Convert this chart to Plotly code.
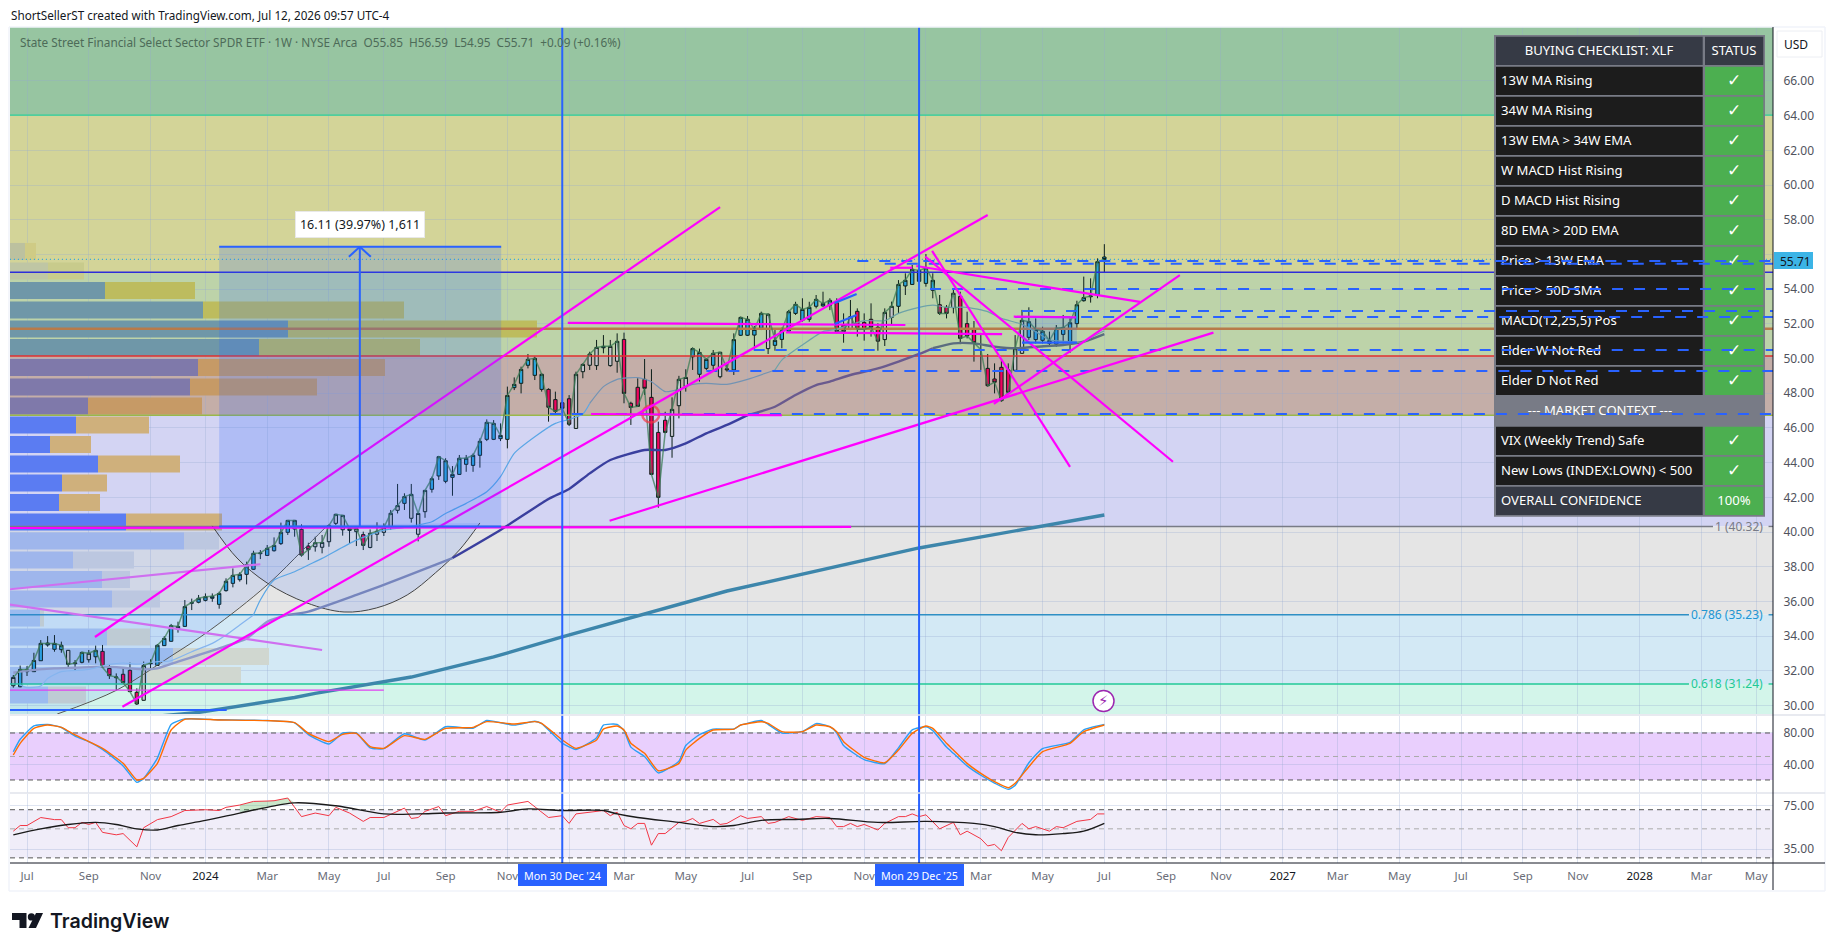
import pandas as pd
import plotly.graph_objects as go

# ---------- data ----------
start = pd.Timestamp("2023-06-19")
highs = [31.76,32.30,32.28,33.04,33.77,34.00,34.06,33.68,33.20,32.62,33.10,33.20,33.45,33.49,32.33,31.85,32.20,32.47,30.99,32.53,
32.66,33.54,34.00,34.70,34.83,36.08,36.16,36.37,36.46,36.46,36.56,37.33,37.90,37.68,38.29,38.92,38.96,39.25,39.69,40.54,
40.69,40.69,40.44,39.38,39.73,39.83,40.44,41.04,40.98,40.31,40.21,40.02,40.15,40.56,40.50,41.27,42.77,42.23,42.77,41.07,
42.42,43.19,44.38,44.25,43.80,44.44,44.44,44.53,45.40,46.49,46.45,46.26,48.38,48.91,49.53,50.26,50.11,49.14,48.28,48.09,
47.61,47.89,49.24,49.72,50.39,51.07,51.35,51.07,51.45,51.49,47.51,48.86,49.97,49.38,46.36,46.93,47.76,49.00,49.38,50.64,
50.57,50.01,50.49,50.36,49.68,51.45,52.41,52.45,51.87,52.70,52.60,51.64,51.78,52.80,53.27,53.47,53.27,53.66,53.85,53.47,
53.47,52.60,53.37,52.89,52.60,53.18,52.03,52.89,53.28,54.52,54.91,55.39,55.49,56.02,54.91,53.66,53.08,53.95,53.85,52.70,
52.16,51.35,50.26,49.72,49.91,49.72,51.35,52.80,52.95,52.31,51.83,51.55,51.93,52.51,52.31,53.33,54.72,54.62,55.77,56.59]
lows = [31.03,31.05,31.70,31.95,32.58,33.39,33.10,33.04,32.20,32.01,32.43,32.47,32.43,32.18,31.53,30.85,31.28,30.78,30.03,30.28,
32.04,32.28,33.43,33.68,34.20,34.54,35.50,35.89,36.00,35.98,35.58,36.56,36.81,37.14,36.98,37.81,38.44,38.62,38.87,39.25,
39.83,39.73,38.58,38.39,38.87,38.77,39.15,40.40,39.79,39.31,39.19,38.96,39.06,39.48,39.77,40.12,41.07,41.27,40.54,39.46,
40.82,42.27,43.00,42.81,42.09,43.29,43.47,43.47,43.71,45.24,45.30,45.24,44.82,48.18,47.99,49.43,48.76,48.09,46.36,46.74,
46.84,46.11,45.95,48.86,49.34,49.34,50.30,49.53,49.18,47.42,46.17,47.22,47.90,43.28,41.40,45.69,44.28,46.55,48.09,49.34,
48.67,49.34,49.24,48.86,49.24,49.05,51.30,51.30,50.49,51.64,50.26,50.45,50.59,51.55,52.51,52.12,52.12,52.89,52.99,52.79,
51.45,50.91,51.64,51.26,51.03,51.26,50.45,50.72,51.99,52.60,53.66,54.24,53.85,54.14,53.47,52.51,52.31,52.60,50.83,51.16,
49.82,49.34,48.38,47.99,47.51,47.99,49.30,50.26,51.07,50.87,50.87,50.68,50.68,50.87,50.33,51.74,53.28,53.22,53.47,54.95]
opens = [31.14,31.08,31.95,31.95,32.58,33.49,33.24,33.22,33.18,32.41,32.49,32.64,32.81,33.12,32.14,31.60,31.80,32.03,30.76,30.30,
32.41,32.31,33.45,33.70,34.39,34.56,35.89,35.95,36.06,36.18,35.83,36.62,37.04,37.25,37.56,37.85,38.75,38.65,38.92,39.33,
39.98,40.17,40.15,39.19,39.15,39.12,39.44,40.50,40.13,40.09,40.02,39.85,39.11,39.87,39.98,40.31,41.25,41.65,40.79,39.87,
41.17,42.46,43.23,42.92,43.15,43.32,43.90,43.84,44.42,45.34,45.34,45.38,45.34,48.32,48.57,49.61,49.03,48.22,48.22,47.63,
47.45,47.68,45.97,49.24,49.61,49.59,50.62,49.59,49.84,51.10,47.42,48.34,48.80,47.76,45.74,46.44,45.51,47.28,48.38,50.10,
49.09,49.43,49.61,48.95,49.34,49.34,51.34,51.34,51.35,51.74,50.57,50.76,51.10,51.58,52.60,52.20,52.26,53.01,53.03,53.06,
53.22,51.93,51.68,52.72,52.08,52.26,51.80,51.09,52.37,53.01,54.18,54.27,54.45,54.33,53.93,53.10,52.95,52.93,53.58,52.01,
51.68,50.47,49.43,48.82,49.49,49.34,49.32,50.30,51.22,51.09,51.05,50.87,50.83,51.39,50.97,52.01,53.33,53.56,53.66,55.85]
closes = [31.62,32.08,32.08,32.60,33.58,33.60,33.58,33.47,32.37,32.45,33.06,33.01,33.18,32.20,31.72,31.64,31.32,30.80,30.09,32.31,
32.45,33.47,33.87,34.60,34.56,35.70,35.93,36.18,36.27,36.29,36.46,37.16,37.50,37.56,38.12,38.77,38.79,39.06,39.23,39.98,
40.67,40.67,38.67,38.98,39.38,39.40,40.37,41.02,40.96,40.19,40.19,39.23,39.92,40.04,40.25,41.08,41.52,42.04,42.17,41.07,
42.40,43.07,44.34,44.11,43.32,44.25,44.25,44.42,45.23,46.32,46.26,45.57,47.87,48.51,49.37,49.95,50.01,49.09,47.19,46.95,
47.13,46.21,49.09,49.66,50.26,50.64,50.70,50.70,50.99,47.99,47.18,47.24,48.28,43.32,42.00,45.74,47.07,48.80,48.91,50.57,
50.35,49.95,50.30,50.36,49.40,51.09,52.37,52.26,51.68,52.60,52.55,51.05,51.60,52.70,53.12,52.83,52.95,53.41,53.18,53.35,
51.55,51.55,52.41,51.68,51.68,51.80,51.00,52.66,53.01,54.27,54.51,55.14,55.08,55.22,54.51,52.60,52.60,53.76,51.16,51.30,
50.91,50.51,48.43,48.63,47.57,48.05,50.57,52.20,52.12,51.68,51.57,51.03,51.74,51.78,52.06,53.10,53.51,53.60,55.58,55.71]
bar_colors = list("gbbbbbbbggbgb" "rrgrrr" "gg" "bbbbbbbbbbbbbbbbbbbbb" "rr" "ggggggg" "r" "ggggg" "b" "ggg"
                  "bbbbbbbbbbbbbbbbb" "rrrr" "gggg" "b" "gg" "rrrrrrr" "ggg" "bbbb" "gg" "bbbbb" "g" "bbbbbbbbb"
                  "rr" "g" "rrrr" "gg" "bbbbbb" "rr" "g" "rrr" "g" "rrrr" "gg" "bbbbbbbbb" "g" "bb")

ma_fast_bars = [2,3,5,6,8,11,12,15,17,19,20,22,24,27,30,32,34,36,37,39,42,44,46,51,55,58,62,64,67,70,72,74,77,80,82,84,85,87,89,92,94,96,98,100,102,105,108,112,113,116,119,121,125,128,130,133,135,137,140,143,145,148,150,152,155,157,158,160]
ma_fast_vals = [31.18,31.03,31.12,31.56,31.95,32.04,32.08,32.37,32.45,32.39,32.43,32.53,32.58,33.10,33.58,34.06,34.64,35.22,36.08,37.23,37.71,38.10,38.48,39.53,40.11,40.27,40.59,41.07,41.65,42.32,43.19,44.53,45.49,46.26,46.49,46.80,47.41,48.38,48.80,48.90,48.66,48.09,48.22,48.51,48.57,48.51,48.80,49.34,49.91,50.78,51.55,51.68,52.18,52.18,52.60,52.95,53.08,52.95,52.95,52.70,52.31,51.97,51.55,51.07,50.97,50.95,51.2,51.6]
ma_mid_bars = [1,3,7,10,14,17,20,22,25,28,31,35,38,41,44,51,58,65,72,79,82,85,88,93,96,99,102,105,108,112,115,118,120,123,127,130,133,135,138,141,144,147,150,154,157,160]
ma_mid_vals = [31.89,32.01,32.14,32.18,32.24,32.18,32.08,32.14,32.53,32.91,33.29,33.87,34.83,35.22,35.41,36.37,37.41,38.50,40.12,41.90,42.48,43.38,44.15,44.73,44.73,45.11,45.69,46.17,46.74,47.22,47.90,48.47,48.67,49.05,49.43,49.82,50.26,50.59,50.87,50.87,50.68,50.59,50.68,50.78,50.97,51.41]
ma_slow_bars = [21,28,42,45,59,71,81,105,133,149,160]
ma_slow_vals = [29.35,29.6,30.46,30.7,31.64,32.8,33.95,36.6,39.08,40.2,40.98]

stoch_bars = [1,2,4,6,8,10,12,14,17,19,20,22,24,26,31,38,42,44,47,49,51,53,55,58,61,64,68,70,74,77,78,81,83,86,87,89,90,91,93,95,98,99,101,103,106,107,110,111,113,116,118,120,121,122,125,128,130,132,134,135,137,138,140,142,144,146,147,149,151,155,157,160]
stoch_k = [56,72,89,91,87,76,69,59,38,17,22,48,91,98,97,96,93,78,66,80,80,61,60,79,71,88,86,96,90,95,92,67,59,74,90,91,83,62,50,29,44,64,78,85,85,90,96,91,80,82,92,88,80,64,46,41,61,84,88,83,62,54,38,26,16,8,13,42,60,68,84,91]
stoch_d = [51.9,66.8,85.9,90.2,87.2,77.5,69,60.4,41.3,20,22.1,41.3,83.8,97.5,96.6,95.8,93.2,79.6,69,78.3,79.6,62.6,60.4,76.6,71.9,85.9,87.2,94.5,91.5,94.5,92.4,71.1,60.4,71.1,85,88.9,83.8,66.8,54,31.8,41.2,58.2,73.1,83.8,85,90.2,94.4,92.3,81.7,81.7,90.2,88,81.7,68.9,48.9,42,58.2,79.5,88.9,85.9,66.8,58.2,41.2,28.4,17.8,10.1,15.7,37,56.1,66.8,81.7,90.2]

rsi_bars = [1,2,3,5,7,8,9,10,11,12,13,14,16,17,19,20,22,24,26,29,31,32,34,36,38,39,41,43,45,47,48,50,52,53,55,57,58,59,60,61,63,64,66,68,70,72,73,76,79,81,82,83,86,87,88,89,90,91,92,93,94,95,96,98,99,100,101,103,104,105,107,108,110,111,112,114,116,118,120,121,122,123,124,125,127,128,130,131,132,133,134,136,138,139,140,142,143,144,145,146,148,149,150,152,153,154,156,158,159,160]
rsi_vals = [48,53,53,61,58.8,58.8,51,51,56,54,56,47,45,46,36.4,51,58.8,62,69,70,69,73,76,81,81.5,82,86,62,66,63,73,66,57,61,61,68,72,60,61,68,74,63,68,68,74,67,76,81,61,63,55,65,68,69,63,67,53,50,55,55,37.5,46,46,56,57,60,55,59,54,55,63,60,62,55,56,62,58,62,61,52,52,55,52,54,49,55,62,62,65,62,64,50,56,45,48,42,37,38,34,43,55,50,52,48,52,51,57,59,65,65]
rsi_ma_bars = [1,5,9,13,16,19,22,25,29,34,38,42,48,55,60,64,72,76,81,87,89,92,98,103,106,110,115,120,127,134,141,144,147,150,154,157,160]
rsi_ma_vals = [45,50,54,56,54,50,49,53,58,66,73,79,75,65,65,66,67,71,69,69,65,61,56,52,53,58,59,60,56,57,55,52,47,45,46,48,55]
rsi_gap_bars = [34,36,38,39,41,42]
rsi_gap_top = [76,81,81.5,82,86,79]
rsi_gap_base = [66,69,73,75,78,79]

vp_prices = [56.17,55.04,53.92,52.80,51.70,50.63,49.48,48.36,47.26,46.17,45.04,43.92,42.82,41.70,40.58,39.48,38.39,37.26,36.14,35.04,33.95,32.82,31.73,30.60]
vp_up = [15,38,95,193,278,249,188,180,78,66,40,88,52,49,116,174,63,92,102,30,97,163,137,38]
vp_down = [11,36,90,201,249,161,187,127,114,73,41,82,45,41,96,35,61,28,48,4,43,96,94,38]
vp_up_colors = ["#bcc19f","#bfc6a4"]+["#6f97a8"]*4+["#7f79aa"]*3+["#5b7cf2"]*6+["#adc0ea"]*4+["#a9c6ee"]*5
vp_down_colors = ["#cfcb85","#c8cb8c"]+["#bdbc5e"]*4+["#c69a66"]*3+["#cfb07c"]*6+["#cdd3dd"]*4+["#d0d7d0"]*5

fib_levels = [64.03,54.97,51.72,50.14,46.73,40.32,35.23,31.24]
fib_line_colors = ["#2bd19a","#2d2dd9","#b87a4a","#e03030","#9ab84a","#787b86","#2f8fc4","#22c997"]
fib_fill_colors = ["#97c5a1","#d3d498","#bdd3a9","#bdd3a9","#c4aea8","#d3d4f3","#e5e5e5","#d3e9f5","#d3f5ea"]

trend_lines = [(12.9,33.95,104.0,58.73),(16.9,29.93,143,58.27),(0.5,40.23,123.1,40.29),(87.9,40.65,175.9,51.49),
               (143.9,47.38,171,54.81),(81.8,52.05,131,51.93),(113.6,51.51,145.1,51.41),(85.2,46.80,113,46.73),
               (134.9,56.20,155,43.75),(133.9,55.87,170,44.05),(132.6,55.33,165.2,53.26),(128.8,55.23,132,55.23),
               (146.8,52.41,155.9,52.37)]
pale_lines = [(0.5,36.70,37,38.14),(0.5,35.81,46,33.20)]
thin_line = (0.5,30.89,55,30.89)
blue_segments = [(0.5,29.74,32.1,29.74),(120.7,53.2,123.9,53.72),(120.7,51.99,123.9,52.51),(148,50.91,156,50.91)]
dash_levels = [55.62,55.46,54.0,52.74,52.39,50.49,49.28,46.80]
dash_starts = [124,128,134.6,148,147,108.9,102,79.2]
rise_bars = [7.4,16.1,23.8,29.7,38,43.2,46.4]
rise_vals = [29.51,30.89,32.80,34.35,36.95,38.96,40.23]
smile_bars = [30,33.6,38,43.8,49.2,53.9,58.4,62.5,66,69]
smile_vals = [40.35,38.50,37.06,35.91,35.39,35.62,36.37,37.64,38.96,40.52]

tick_dates = ["2023-07-03","2023-09-04","2023-11-06","2024-01-01","2024-03-04","2024-05-06","2024-07-01","2024-09-02","2024-11-04","2025-01-06","2025-03-03","2025-05-05","2025-07-07","2025-09-01","2025-11-03","2026-01-05","2026-03-02","2026-05-04","2026-07-06","2026-09-07","2026-11-02","2027-01-04","2027-03-01","2027-05-03","2027-07-05","2027-09-06","2027-11-01","2028-01-03","2028-03-06","2028-05-01"]
tick_text = ["Jul","Sep","Nov","2024","Mar","May","Jul","Sep","Nov","","Mar","May","Jul","Sep","Nov","","Mar","May","Jul","Sep","Nov","2027","Mar","May","Jul","Sep","Nov","2028","Mar","May"]
price_ticks = list(range(30, 68, 2))
price_labels = ["" if v == 56 else f"{v}.00" for v in price_ticks]
cursor_dates = ["2024-12-30","2025-12-29"]
cursor_text = ["Mon 30 Dec '24","Mon 29 Dec '25"]

check_rows = ["13W MA Rising","34W MA Rising","13W EMA > 34W EMA","W MACD Hist Rising","D MACD Hist Rising","8D EMA > 20D EMA","Price > 13W EMA","Price > 50D SMA","MACD(12,25,5) Pos","Elder W Not Red","Elder D Not Red"]
context_rows = ["VIX (Weekly Trend) Safe","New Lows (INDEX:LOWN) < 500"]

# ---------- page layout ----------
W, H = 1835, 951
L, R = 10, 1773
X_RANGE = ["2023-06-15 15:00", "2028-05-18 03:00"]
FONT = "Noto Sans"
DATES = [start + pd.Timedelta(weeks=i) for i in range(len(closes))]
bd = lambda b: start + pd.Timedelta(days=(b - 1) * 7)
dom = lambda top, bot: [1 - bot / H, 1 - top / H]
RIGHT_BAR = 257.45
GRID = "rgba(150,170,210,0.30)"

fig = go.Figure()
shapes, annos = [], []

# volume profile: widths are turned into time spans on the date axis
unit_ms = 7 * 86400000 / 6.862
left = pd.Timestamp(X_RANGE[0])
fig.add_trace(go.Bar(y=vp_prices, x=[v * unit_ms for v in vp_up], base=[left] * len(vp_up), orientation="h", width=0.98,
                     marker=dict(color=vp_up_colors, line=dict(width=0)), hoverinfo="skip"))
fig.add_trace(go.Bar(y=vp_prices, x=[v * unit_ms for v in vp_down],
                     base=[left + pd.Timedelta(milliseconds=u * unit_ms) for u in vp_up], orientation="h", width=0.98,
                     marker=dict(color=vp_down_colors, line=dict(width=0)), hoverinfo="skip"))

# levels, above the profile and below the candles
fib_ends = [RIGHT_BAR] * 5 + [248.7, 245.2, 245.2]
for lv, col, e in zip(fib_levels, fib_line_colors, fib_ends):
    fig.add_trace(go.Scatter(x=[bd(0.5), bd(e)], y=[lv, lv], mode="lines", hoverinfo="skip",
                             line=dict(color=col, width=2.5 if lv == 51.72 else 1.4)))
for lv, col in zip(fib_levels[5:], fib_line_colors[5:]):
    fig.add_trace(go.Scatter(x=[bd(256.8), bd(RIGHT_BAR)], y=[lv, lv], mode="lines", hoverinfo="skip", line=dict(color=col, width=1.4)))
fig.add_trace(go.Scatter(x=[bd(0.5), bd(RIGHT_BAR)], y=[55.71, 55.71], mode="lines", hoverinfo="skip", line=dict(color="#2ba7e0", width=1.2, dash="1px,3px")))

# cup drawings
fig.add_trace(go.Scatter(x=[bd(b) for b in rise_bars] + [bd(0.5), bd(0.5)], y=rise_vals + [40.23, 29.51], mode="none", fill="toself",
                         fillcolor="rgba(41,98,255,0.10)", hoverinfo="skip"))
fig.add_trace(go.Scatter(x=[bd(b) for b in rise_bars], y=rise_vals, mode="lines", line=dict(color="#555", width=1, shape="spline"), hoverinfo="skip"))
fig.add_trace(go.Scatter(x=[bd(b) for b in smile_bars], y=smile_vals, mode="lines", line=dict(color="#444", width=1, shape="spline"),
                         fill="toself", fillcolor="rgba(41,98,255,0.13)", hoverinfo="skip"))

# moving averages; the tone shifts with the band each one passes under
def ma_trace(bars, vals, parts, width):
    for b0, b1, col in parts:
        sub = [(b, v) for b, v in zip(bars, vals) if b0 <= b <= b1]
        fig.add_trace(go.Scatter(x=[bd(b) for b, _ in sub], y=[v for _, v in sub], mode="lines", hoverinfo="skip",
                                 line=dict(color=col, width=width, shape="spline", smoothing=0.6)))

fig.add_trace(go.Scatter(x=[bd(b) for b in ma_slow_bars], y=ma_slow_vals, mode="lines", line=dict(color="#3d86ab", width=3.4), hoverinfo="skip"))
ma_trace(ma_mid_bars, ma_mid_vals, [(1, 41, "#8f9acb"), (41, 65, "#7685bd"), (65, 108, "#3a3f9e"), (108, 135, "#6a5a8e"), (135, 160, "#5b6d7f")], 2.4)
ma_trace(ma_fast_bars, ma_fast_vals, [(2, 36, "#85b5ef"), (36, 85, "#5aa6e6"), (85, 112, "#7393b3"), (112, 160, "#6da3a8")], 1.2)
fig.add_trace(go.Scatter(x=DATES, y=closes, mode="lines", line=dict(color="rgba(60,125,85,0.75)", width=1.5), hoverinfo="skip"))

# candles, one trace per impulse colour
for code, col in (("b", "#2aa5dc"), ("r", "#f0045f"), ("g", "#c4c4cc")):
    ix = [i for i, c in enumerate(bar_colors) if c == code]
    side = dict(fillcolor=col, line=dict(color="#0d1f1a", width=1))
    fig.add_trace(go.Candlestick(x=[DATES[i] for i in ix], open=[opens[i] for i in ix], high=[highs[i] for i in ix],
                                 low=[lows[i] for i in ix], close=[closes[i] for i in ix],
                                 increasing=side, decreasing=side, whiskerwidth=0, hoverinfo="skip"))
fig.add_trace(go.Scatter(x=[bd(93.9)], y=[46.80], mode="markers", hoverinfo="skip",
                         marker=dict(symbol="circle-open", size=17, color="rgba(242,54,69,0.7)", line=dict(color="rgba(242,54,69,0.7)", width=2.5))))

# stochastic panel
fig.add_trace(go.Scatter(x=[bd(b) for b in stoch_bars], y=stoch_k, xaxis="x2", yaxis="y2", mode="lines", line=dict(color="#2ba0f5", width=1.4, shape="spline", smoothing=0.5), hoverinfo="skip"))
fig.add_trace(go.Scatter(x=[bd(b) for b in stoch_bars], y=stoch_d, xaxis="x2", yaxis="y2", mode="lines", line=dict(color="#ff6d00", width=1.4, shape="spline", smoothing=0.5), hoverinfo="skip"))
# rsi panel
fig.add_trace(go.Scatter(x=[bd(b) for b in rsi_gap_bars + rsi_gap_bars[::-1]], y=rsi_gap_top + rsi_gap_base[::-1], xaxis="x3", yaxis="y3", mode="none",
                         fill="toself", fillcolor="rgba(76,175,80,0.30)", hoverinfo="skip"))
fig.add_trace(go.Scatter(x=[bd(b) for b in rsi_bars], y=rsi_vals, xaxis="x3", yaxis="y3", mode="lines", line=dict(color="#f23645", width=1), hoverinfo="skip"))
fig.add_trace(go.Scatter(x=[bd(b) for b in rsi_ma_bars], y=rsi_ma_vals, xaxis="x3", yaxis="y3", mode="lines", line=dict(color="#1a1a1a", width=1.4, shape="spline"), hoverinfo="skip"))

# checklist table (page-pixel subplot above the candles)
rows_top = 36.7
row_step, row_h = 30, 28.3
def rect(x0, y0, x1, y1, col, layer="between", line=None):
    shapes.append(dict(type="rect", xref="x4", yref="y4", x0=x0, x1=x1, y0=y0, y1=y1, fillcolor=col, layer=layer,
                       line=line or dict(width=0)))
rect(1494, 35, 1765, 516.7, "#787b86")
tx, ty, ts = [], [], []
cx, cy, cs = [], [], []
kx, ky = [], []
for i in range(16):
    y0 = rows_top + i * row_step
    yc = y0 + row_h / 2 + 1
    if i == 12:
        cx.append(1600); cy.append(yc); cs.append("--- MARKET CONTEXT ---")
        continue
    is_dark = i in (0, 15)
    rect(1496, y0, 1702.7, y0 + row_h, "#363a45" if is_dark else "#1c1c1c")
    rect(1705, y0, 1763.3, y0 + row_h, "#363a45" if i == 0 else "#4caf50")
    if i == 0:
        cx += [1599, 1734]; cy += [yc, yc]; cs += ["BUYING CHECKLIST: XLF", "STATUS"]
    elif i == 15:
        tx.append(1501); ty.append(yc); ts.append("OVERALL CONFIDENCE")
        cx.append(1734); cy.append(yc); cs.append("100%")
    else:
        label = check_rows[i - 1] if i <= 11 else context_rows[i - 13]
        tx.append(1501); ty.append(yc); ts.append(label)
        kx.append(1734); ky.append(yc)
fig.add_trace(go.Scatter(x=tx, y=ty, text=ts, xaxis="x4", yaxis="y4", mode="text", textposition="middle right",
                         textfont=dict(family=FONT, size=13.1, color="white"), hoverinfo="skip"))
fig.add_trace(go.Scatter(x=cx, y=cy, text=cs, xaxis="x4", yaxis="y4", mode="text", textposition="middle center",
                         textfont=dict(family=FONT, size=13.1, color="white"), hoverinfo="skip"))
fig.add_trace(go.Scatter(x=kx, y=ky, text=["✓"] * len(kx), xaxis="x4", yaxis="y4", mode="text", textposition="middle center",
                         textfont=dict(family="DejaVu Sans", size=17, color="white", weight=700), hoverinfo="skip"))

# drawings above table (last subplot)
def seg_trace(segs, color, width, dash=None):
    xs, ys = [], []
    for b0, p0, b1, p1 in segs:
        xs += [bd(b0), bd(b1), None]; ys += [p0, p1, None]
    fig.add_trace(go.Scatter(x=xs, y=ys, xaxis="x5", yaxis="y5", mode="lines", hoverinfo="skip",
                             line=dict(color=color, width=width, dash=dash)))

seg_trace([(b, p, RIGHT_BAR, p) for b, p in zip(dash_starts, dash_levels)], "#2962ff", 2, "11px,11px")
seg_trace(pale_lines, "#cf6ff0", 2.2)
seg_trace([thin_line], "#e040f0", 1.3)
seg_trace(trend_lines, "#ff00ff", 2.2)
seg_trace(blue_segments, "#2962ff", 2.2)
seg_trace([(49.9, 55.86, 51.5, 56.44), (51.5, 56.44, 53.1, 55.86)], "#2962ff", 2)

# zone fills
edges = [69.2] + fib_levels + [29.4]
for i, col in enumerate(fib_fill_colors):
    shapes.append(dict(type="rect", xref="x", yref="y", x0=X_RANGE[0], x1=X_RANGE[1], y0=edges[i + 1], y1=edges[i], fillcolor=col, line=dict(width=0), layer="below"))
for lab, lv, col in (("1 (40.32)", 40.32, "#787b86"), ("0.786 (35.23)", 35.23, "#2196d3"), ("0.618 (31.24)", 31.24, "#22c997")):
    annos.append(dict(xref="x4", yref="y", x=1765, y=lv, text=lab, showarrow=False, xanchor="right", yanchor="middle", font=dict(family=FONT, size=12, color=col)))

# oscillator bands
shapes.append(dict(type="rect", xref="x2", yref="y2", x0=X_RANGE[0], x1=X_RANGE[1], y0=20, y1=80, fillcolor="#e9cffd", line=dict(width=0), layer="below"))
shapes.append(dict(type="rect", xref="x3", yref="y3", x0=X_RANGE[0], x1=X_RANGE[1], y0=30, y1=70, fillcolor="#f0edf9", line=dict(width=0), layer="below"))
for xr, yr, lv, col in (("x2","y2",80,"#555"),("x2","y2",50,"#aaa"),("x2","y2",20,"#555"),("x3","y3",70,"#555"),("x3","y3",50,"#aaa"),("x3","y3",30,"#555")):
    shapes.append(dict(type="line", xref=xr, yref=yr, x0=X_RANGE[0], x1=X_RANGE[1], y0=lv, y1=lv, layer="between", line=dict(color=col, width=1, dash="5px,4px")))

# measured range
shapes.append(dict(type="rect", xref="x", yref="y", x0=bd(31.0), x1=bd(72.1), y0=40.31, y1=56.44, fillcolor="rgba(41,98,255,0.20)", line=dict(width=0), layer="above"))
for p in (40.31, 56.44):
    shapes.append(dict(type="line", xref="x", yref="y", x0=bd(31.0), x1=bd(72.1), y0=p, y1=p, line=dict(color="#2962ff", width=2), layer="above"))
shapes.append(dict(type="line", xref="x", yref="y", x0=bd(51.5), x1=bd(51.5), y0=40.31, y1=56.44, line=dict(color="#2962ff", width=2), layer="above"))
annos.append(dict(xref="x4", yref="y4", x=360, y=224.5, text="16.11 (39.97%) 1,611", showarrow=False, bgcolor="white", borderpad=5, bordercolor="#e8e8e8", borderwidth=1,
                  font=dict(family=FONT, size=12.5, color="#131722"), width=118, height=15))
# small tinted boxes
shapes.append(dict(type="path", xref="x", yref="y", layer="above", fillcolor="rgba(41,98,255,0.18)", line=dict(width=0),
                   path=f"M {bd(120.7)} 53.2 L {bd(123.9)} 53.72 L {bd(123.9)} 52.51 L {bd(120.7)} 51.99 Z"))
shapes.append(dict(type="rect", xref="x", yref="y", layer="above", fillcolor="rgba(41,98,255,0.18)", line=dict(width=0), x0=bd(148), x1=bd(156), y0=50.91, y1=52.4))

# crosshair-like verticals
for d in cursor_dates:
    shapes.append(dict(type="line", xref="x", yref="paper", x0=d, x1=d, y0=1 - 863 / H, y1=1 - 27 / H, line=dict(color="#2962ff", width=2), layer="above"))

# frame and axis lines (page pixels)
def pline(x0, y0, x1, y1, col, w=1):
    shapes.append(dict(type="line", xref="x4", yref="y4", x0=x0, y0=y0, x1=x1, y1=y1, line=dict(color=col, width=w), layer="above"))
pline(9, 27, 1825, 27, "#f0f3fa", 1.5); pline(9, 27, 9, 891, "#f0f3fa", 1.5); pline(9, 891, 1825, 891, "#f0f3fa", 1.5); pline(1825, 27, 1825, 891, "#f0f3fa", 1.5)
pline(L, 715, 1825, 715, "#e0e3eb", 1.5); pline(L, 793, 1825, 793, "#e0e3eb", 1.5)
pline(L, 863, 1825, 863, "#131722", 1); pline(R, 27, R, 890, "#131722", 1)

# axis tags
shapes.append(dict(type="rect", xref="x4", yref="y4", x0=1774, x1=1813, y0=252, y1=269, fillcolor="#3cb4e6", line=dict(width=0), layer="above"))
annos.append(dict(xref="x4", yref="y4", x=1795, y=261, text="55.71", showarrow=False, font=dict(family=FONT, size=12, color="#131722")))
shapes.append(dict(type="rect", xref="x4", yref="y4", x0=1777, x1=1822, y0=31, y1=57, fillcolor="white", line=dict(color="#eceef3", width=1), layer="above"))
annos.append(dict(xref="x4", yref="y4", x=1796, y=44, text="USD", showarrow=False, font=dict(family=FONT, size=12, color="#131722")))
for (x0, x1), txt in zip(((518, 607), (875, 964)), cursor_text):
    shapes.append(dict(type="rect", xref="x4", yref="y4", x0=x0, x1=x1, y0=864, y1=886, fillcolor="#2962ff", line=dict(width=0), layer="above"))
    annos.append(dict(xref="x4", yref="y4", x=(x0 + x1) / 2, y=875.5, text=txt, showarrow=False, font=dict(family=FONT, size=10.7, color="white")))

# header texts
annos.append(dict(xref="x4", yref="y4", x=9, y=15, text="ShortSellerST created with TradingView.com, Jul 12, 2026 09:57 UTC-4", showarrow=False, xanchor="left", font=dict(family=FONT, size=11.7, color="#131722")))
annos.append(dict(xref="x4", yref="y4", x=18, y=41.7, text="State Street Financial Select Sector SPDR ETF · 1W · NYSE Arca  O55.85  H56.59  L54.95  C55.71  +0.09 (+0.16%)", showarrow=False, xanchor="left", font=dict(family=FONT, size=11.8, color="#4d6b58")))

# flash icon
shapes.append(dict(type="circle", xref="x4", yref="y4", x0=1093, x1=1114, y0=690.5, y1=711.5, fillcolor="white", line=dict(color="#9c27b0", width=1.5), layer="above"))
annos.append(dict(xref="x4", yref="y4", x=1103.5, y=701, text="⚡", showarrow=False, font=dict(family="DejaVu Sans", size=15, color="#9c27b0")))

# logo
shapes.append(dict(type="path", xref="x4", yref="y4", layer="above", fillcolor="#131722", line=dict(width=0), path="M12 913 H26.5 V928 H19.5 V920 H12 Z"))
shapes.append(dict(type="circle", xref="x4", yref="y4", layer="above", fillcolor="#131722", line=dict(width=0), x0=27.8, x1=35, y0=913.3, y1=920.5))
shapes.append(dict(type="path", xref="x4", yref="y4", layer="above", fillcolor="#131722", line=dict(width=0), path="M36 913 H43 L36 928 H28.5 Z"))
annos.append(dict(xref="x4", yref="y4", x=48, y=921, text="TradingView", showarrow=False, xanchor="left", font=dict(family="Inter", size=19.6, color="#131722", weight=600)))

xcommon = dict(type="date", range=X_RANGE, tickmode="array", tickvals=tick_dates, showgrid=True, gridcolor=GRID, gridwidth=1,
               zeroline=False, showline=False, rangeslider=dict(visible=False), fixedrange=True)
ycommon = dict(side="right", showgrid=True, gridcolor=GRID, zeroline=False, showline=False, fixedrange=True, ticks="outside", ticklen=7, tickcolor="rgba(0,0,0,0)",
               tickfont=dict(family=FONT, size=12, color="#50535e"), tickformat=".2f")
hidden = dict(visible=False, fixedrange=True)
ticktext = [f'<span style="color:#131722">{t}</span>' if t[:1] == "2" else t for t in tick_text]

fig.update_layout(
    width=W, height=H, autosize=False, margin=dict(l=0, r=0, t=0, b=0), paper_bgcolor="white", plot_bgcolor="rgba(0,0,0,0)",
    showlegend=False, barmode="overlay", boxmode="overlay", boxgap=0.3, shapes=shapes, annotations=annos,
    font=dict(family=FONT),
    xaxis=dict(xcommon, domain=[L / W, R / W], anchor="y", showticklabels=False),
    yaxis=dict(ycommon, domain=dom(27, 714), anchor="x", range=[29.51, 69.107], tickmode="array", tickvals=price_ticks, ticktext=price_labels),
    xaxis2=dict(xcommon, domain=[L / W, R / W], anchor="y2", showticklabels=False),
    yaxis2=dict(ycommon, domain=dom(716, 793), anchor="x2", range=[3.37, 101.7], tickmode="array", tickvals=[40, 80]),
    xaxis3=dict(xcommon, domain=[L / W, R / W], anchor="y3", ticktext=ticktext, ticks="outside", ticklen=2, tickcolor="rgba(0,0,0,0)",
                tickfont=dict(family=FONT, size=11.5, color="#6a6d78"), tickangle=0),
    yaxis3=dict(ycommon, domain=dom(794, 863), anchor="x3", type="log", range=[1.4378, 1.9652], tickmode="array", tickvals=[35, 75]),
    xaxis4=dict(hidden, domain=[0, 1], anchor="y4", range=[0, W]),
    yaxis4=dict(hidden, domain=[0, 1], anchor="x4", range=[H, 0]),
    xaxis5=dict(hidden, type="date", domain=[L / W, R / W], anchor="y5", range=X_RANGE),
    yaxis5=dict(hidden, domain=dom(27, 714), anchor="x5", range=[29.51, 69.107]),
)
fig.write_html("out.html", config=dict(displayModeBar=False),
               post_script="document.body.style.margin='0';document.body.style.overflow='hidden';")
